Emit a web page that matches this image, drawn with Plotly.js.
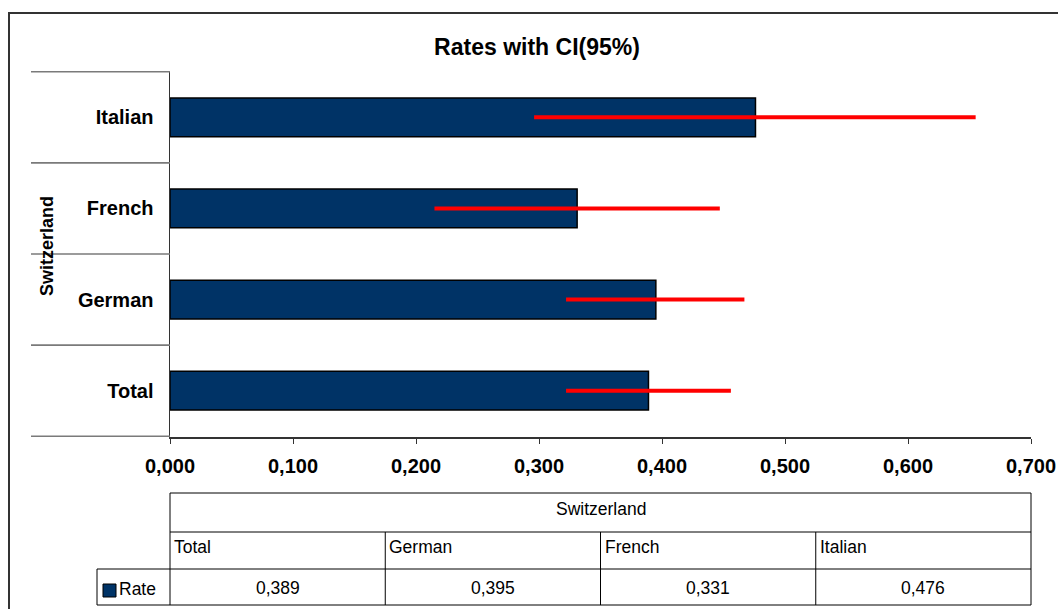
<!DOCTYPE html>
<html>
<head>
<meta charset="utf-8">
<script src="https://cdn.plot.ly/plotly-3.0.1.min.js"></script>
<style>
html,body{margin:0;padding:0;background:#fff;}
#chart{width:1058px;height:609px;}
</style>
</head>
<body>
<div id="chart"></div>
<script>
// ---- data ----
const categories = ['Total', 'German', 'French', 'Italian'];
const rates = [0.389, 0.395, 0.331, 0.476];
const ciLow = [0.322, 0.322, 0.215, 0.296];
const ciHigh = [0.456, 0.467, 0.447, 0.655];
const groupLabel = 'Switzerland';
const seriesName = 'Rate';
const rateLabels = ['0,389', '0,395', '0,331', '0,476'];

// ---- geometry helpers (plot area: x 170..1031, y 71..437) ----
const W = 1058, H = 609;
const L = 170, R = 1031, T = 71, B = 437;
const px = x => (x - L) / (R - L);
const py = y => (B - y) / (B - T);

const FONT = 'Liberation Sans, Arial, sans-serif';
const NAVY = '#003366';

const errPlus = rates.map((v, i) => ciHigh[i] - v);
const errMinus = rates.map((v, i) => v - ciLow[i]);

const trace = {
  type: 'bar',
  orientation: 'h',
  y: categories,
  x: rates,
  name: seriesName,
  marker: {color: NAVY, line: {color: '#000', width: 1.5}},
  error_x: {
    type: 'data', symmetric: false,
    array: errPlus, arrayminus: errMinus,
    color: '#ff0000', thickness: 4, width: 0
  },
  hoverinfo: 'skip'
};

const shapes = [];
const annotations = [];

// outer chart frame
shapes.push({type: 'rect', xref: 'paper', yref: 'paper',
  x0: px(9), x1: px(1070), y0: py(620), y1: py(13),
  line: {color: '#333', width: 2}, fillcolor: 'rgba(0,0,0,0)', layer: 'below'});

// category separators on the left
for (let k = 0; k <= categories.length; k++) {
  shapes.push({type: 'line', xref: 'paper', yref: 'y',
    x0: px(31), x1: 0, y0: k - 0.5, y1: k - 0.5,
    line: {color: '#7a7a7a', width: 1.6}});
}

// y axis group title
annotations.push({xref: 'paper', yref: 'paper', x: px(47), y: py(246),
  text: '<b>' + groupLabel + '</b>', textangle: -90, showarrow: false,
  font: {family: FONT, size: 18, color: '#000'}, xanchor: 'center', yanchor: 'middle'});

// ---- data table ----
const tTop = 493, tR1 = 532, tR2 = 569, tBot = 605;
const lineT = {color: '#000', width: 1};
shapes.push({type: 'line', xref: 'paper', yref: 'paper', x0: 0, x1: 1, y0: py(tTop), y1: py(tTop), line: lineT});
shapes.push({type: 'line', xref: 'paper', yref: 'paper', x0: 0, x1: 1, y0: py(tR1), y1: py(tR1), line: lineT});
shapes.push({type: 'line', xref: 'paper', yref: 'paper', x0: px(97), x1: 1, y0: py(tR2), y1: py(tR2), line: lineT});
shapes.push({type: 'line', xref: 'paper', yref: 'paper', x0: px(97), x1: 1, y0: py(tBot), y1: py(tBot), line: lineT});
shapes.push({type: 'line', xref: 'paper', yref: 'paper', x0: 0, x1: 0, y0: py(tTop), y1: py(tBot), line: lineT});
shapes.push({type: 'line', xref: 'paper', yref: 'paper', x0: 1, x1: 1, y0: py(tTop), y1: py(tBot), line: lineT});
shapes.push({type: 'line', xref: 'paper', yref: 'paper', x0: px(97), x1: px(97), y0: py(tR2), y1: py(tBot), line: lineT});
const n = categories.length;
for (let i = 1; i < n; i++) {
  shapes.push({type: 'line', xref: 'paper', yref: 'paper', x0: i / n, x1: i / n, y0: py(tR1), y1: py(tBot), line: lineT});
}
const tFont = {family: FONT, size: 17.5, color: '#000'};
annotations.push({xref: 'paper', yref: 'paper', x: 0.5, y: py(509), text: groupLabel,
  showarrow: false, font: tFont, xanchor: 'center', yanchor: 'middle'});
categories.forEach((c, i) => {
  annotations.push({xref: 'paper', yref: 'paper', x: i / n + px(172), y: py(547), text: c,
    showarrow: false, font: tFont, xanchor: 'left', yanchor: 'middle'});
  annotations.push({xref: 'paper', yref: 'paper', x: (i + 0.5) / n, y: py(588), text: rateLabels[i],
    showarrow: false, font: tFont, xanchor: 'center', yanchor: 'middle'});
});
// legend key in table
shapes.push({type: 'rect', xref: 'paper', yref: 'paper', x0: px(103), x1: px(116), y0: py(597), y1: py(584),
  fillcolor: NAVY, line: {color: '#000', width: 1}});
annotations.push({xref: 'paper', yref: 'paper', x: px(117), y: py(589), text: seriesName,
  showarrow: false, font: tFont, xanchor: 'left', yanchor: 'middle'});

const layout = {
  width: W, height: H,
  margin: {l: L, r: W - R, t: T, b: H - B, pad: 0},
  paper_bgcolor: '#fff', plot_bgcolor: '#fff',
  separators: ',.',
  showlegend: false,
  bargap: 0.574,
  title: {text: '<b>Rates with CI(95%)</b>', xref: 'container', x: 537 / W, xanchor: 'center',
    yref: 'container', y: 1 - 47 / H, yanchor: 'middle',
    font: {family: FONT, size: 23, color: '#000'}},
  xaxis: {
    range: [0, 0.7], dtick: 0.1, tick0: 0, tickformat: '.3f',
    showgrid: false, zeroline: false,
    showline: true, linecolor: '#333', linewidth: 1.5,
    ticks: 'outside', ticklen: 5, tickcolor: '#333', tickwidth: 1,
    tickfont: {family: FONT, size: 20, color: '#000', weight: 'bold'},
    ticklabelstandoff: 5
  },
  yaxis: {
    type: 'category', categoryorder: 'array', categoryarray: categories,
    showgrid: false, zeroline: false,
    showline: true, linecolor: '#333', linewidth: 1.5,
    ticks: '', tickfont: {family: FONT, size: 20, color: '#000', weight: 'bold'},
    ticklabelstandoff: 11
  },
  shapes: shapes,
  annotations: annotations
};

Plotly.newPlot('chart', [trace], layout, {displayModeBar: false, staticPlot: true});
</script>
</body>
</html>
